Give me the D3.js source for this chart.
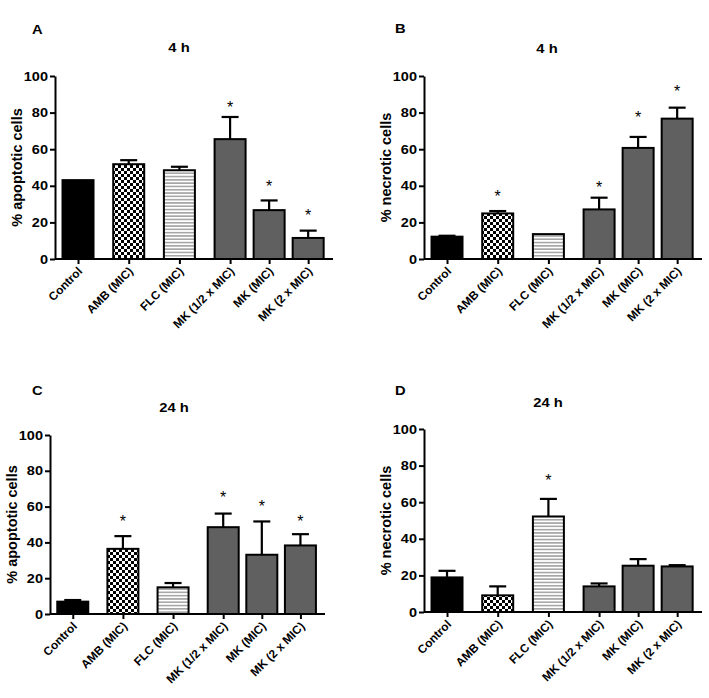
<!DOCTYPE html>
<html>
<head>
<meta charset="utf-8">
<script src="https://cdn.jsdelivr.net/npm/d3@7/dist/d3.min.js"></script>
<style>
  html, body { margin: 0; padding: 0; background: #fff; }
  text { font-family: "Liberation Sans", Arial, sans-serif; font-weight: bold; fill: #000; }
</style>
</head>
<body>
<svg id="chart" width="709" height="698"></svg>
<script>
// ---------- data ----------
const categories = ["Control", "AMB (MIC)", "FLC (MIC)", "MK (1/2 x MIC)", "MK (MIC)", "MK (2 x MIC)"];
const yTicks = [0, 20, 40, 60, 80, 100];

const apoptotic4h      = [43.1, 51.8, 48.5, 65.5, 26.7, 11.5];
const apoptotic4hErr   = [0, 2.2, 1.9, 12.1, 5.3, 4.0];
const apoptotic4hStar  = [null, null, null, 84.9, 41.3, 25.8];

const necrotic4h       = [12.2, 24.9, 13.6, 27.1, 60.7, 76.7];
const necrotic4hErr    = [0.5, 1.3, 0, 6.4, 6.0, 6.0];
const necrotic4hStar   = [null, 36.2, null, 41.1, 79.1, 93.6];

const apoptotic24h     = [6.9, 36.4, 14.9, 48.5, 33.1, 38.3];
const apoptotic24hErr  = [0.9, 7.1, 2.4, 7.6, 18.6, 6.3];
const apoptotic24hStar = [null, 53.5, null, 66.9, 61.9, 53.9];

const necrotic24h      = [18.9, 9.1, 52.2, 14.0, 25.3, 24.9];
const necrotic24hErr   = [3.6, 4.9, 9.6, 1.6, 3.6, 0.7];
const necrotic24hStar  = [null, null, 73.5, null, null, null];

// ---------- layout / style ----------
const panels = [
  { letter: "A", title: "4 h",  ylabel: "% apoptotic cells", values: apoptotic4h,  errs: apoptotic4hErr,  stars: apoptotic4hStar,
    x0: 55,  yTop: 76,  yBot: 259, w: 278, letterPos: [32, 33.5],  titlePos: [179, 52] },
  { letter: "B", title: "4 h",  ylabel: "% necrotic cells",  values: necrotic4h,   errs: necrotic4hErr,   stars: necrotic4hStar,
    x0: 424, yTop: 76,  yBot: 259, w: 278, letterPos: [395, 33],   titlePos: [547, 53] },
  { letter: "C", title: "24 h", ylabel: "% apoptotic cells", values: apoptotic24h, errs: apoptotic24hErr, stars: apoptotic24hStar,
    x0: 50,  yTop: 435, yBot: 614, w: 275, letterPos: [32, 395],   titlePos: [174, 412] },
  { letter: "D", title: "24 h", ylabel: "% necrotic cells",  values: necrotic24h,  errs: necrotic24hErr,  stars: necrotic24hStar,
    x0: 424, yTop: 429, yBot: 612, w: 278, letterPos: [395, 395],  titlePos: [548, 407] }
];

const STRETCH = 1.18;           // horizontal text stretch seen in the figure
const BAR_W = 31;
const CAP_W = 17;
const GRAY = "#606060";
const fills = ["#000", "url(#checker)", "url(#stripes)", GRAY, GRAY, GRAY];

// slot positions: first groups evenly spaced, MK doses packed closer
const slots = categories.map((c, i) => i <= 3 ? i : 3 + (i - 3) * 0.77);

const svg = d3.select("#chart");
const defs = svg.append("defs");

const checker = defs.append("pattern").attr("id", "checker")
  .attr("patternUnits", "userSpaceOnUse").attr("width", 6).attr("height", 6);
checker.append("rect").attr("width", 6).attr("height", 6).attr("fill", "#fff");
checker.append("rect").attr("width", 3).attr("height", 3).attr("fill", "#000");
checker.append("rect").attr("x", 3).attr("y", 3).attr("width", 3).attr("height", 3).attr("fill", "#000");

const stripes = defs.append("pattern").attr("id", "stripes")
  .attr("patternUnits", "userSpaceOnUse").attr("width", 6).attr("height", 3.3);
stripes.append("rect").attr("width", 6).attr("height", 3.3).attr("fill", "#fff");
stripes.append("rect").attr("y", 1.0).attr("width", 6).attr("height", 1.3).attr("fill", "#909090");

function stretchedText(g, x, y, txt, size, anchor) {
  return g.append("text")
    .attr("transform", `translate(${x},${y}) scale(${STRETCH},1)`)
    .attr("text-anchor", anchor || "middle")
    .attr("font-size", size)
    .text(txt);
}

panels.forEach(p => {
  const g = svg.append("g").attr("transform", `translate(${p.x0},0)`);
  const y = d3.scaleLinear().domain([0, 100]).range([p.yBot, p.yTop]);
  const x = d3.scaleLinear().domain([-0.454, 5.03]).range([0, p.w]);

  // bars
  g.selectAll("rect.bar").data(p.values).join("rect")
    .attr("class", "bar")
    .attr("x", (d, i) => x(slots[i]) - BAR_W / 2)
    .attr("y", d => y(d))
    .attr("width", BAR_W)
    .attr("height", d => y(0) - y(d))
    .attr("fill", (d, i) => fills[i])
    .attr("stroke", "#000")
    .attr("stroke-width", 2);

  // error bars (upper only)
  p.values.forEach((v, i) => {
    const e = p.errs[i];
    if (!e || e < 0.3) return;
    const cx = x(slots[i]);
    g.append("line").attr("x1", cx).attr("x2", cx).attr("y1", y(v)).attr("y2", y(v + e))
      .attr("stroke", "#000").attr("stroke-width", 2.2);
    g.append("line").attr("x1", cx - CAP_W / 2).attr("x2", cx + CAP_W / 2).attr("y1", y(v + e)).attr("y2", y(v + e))
      .attr("stroke", "#000").attr("stroke-width", 2.2);
  });

  // significance stars
  p.stars.forEach((s, i) => {
    if (s == null) return;
    g.append("text").attr("x", x(slots[i])).attr("y", y(s) + 9)
      .attr("text-anchor", "middle").attr("font-size", 16)
      .style("font-weight", "normal").text("*");
  });

  // y axis
  const yAxis = g.append("g").call(d3.axisLeft(y).tickValues(yTicks).tickSize(5).tickSizeOuter(0).tickFormat(""));
  yAxis.selectAll("path, line").attr("stroke", "#000").attr("stroke-width", 2);
  yTicks.forEach(t => stretchedText(g, -7, y(t) + 4.5, String(t), 12.3, "end"));

  // x axis
  const xAxis = g.append("g").attr("transform", `translate(0,${p.yBot})`)
    .call(d3.axisBottom(x).tickValues(slots).tickSize(5).tickSizeOuter(0).tickFormat(""));
  xAxis.selectAll("path, line").attr("stroke", "#000").attr("stroke-width", 2);
  xAxis.select("path.domain").attr("d", `M0,0H${p.w}`);

  categories.forEach((c, i) => {
    g.append("text")
      .attr("transform", `translate(${x(slots[i]) + 5},${p.yBot + 13}) rotate(-45)`)
      .attr("text-anchor", "end")
      .attr("font-size", 11.8)
      .text(c);
  });

  // y label
  g.append("text")
    .attr("transform", `translate(-33,${(p.yTop + p.yBot) / 2}) rotate(-90)`)
    .attr("text-anchor", "middle")
    .attr("font-size", 14.5)
    .text(p.ylabel);

  // letter and title (absolute coords)
  stretchedText(svg, p.letterPos[0], p.letterPos[1], p.letter, 12.5, "start");
  stretchedText(svg, p.titlePos[0], p.titlePos[1], p.title, 12.5, "middle");
});
</script>
</body>
</html>
